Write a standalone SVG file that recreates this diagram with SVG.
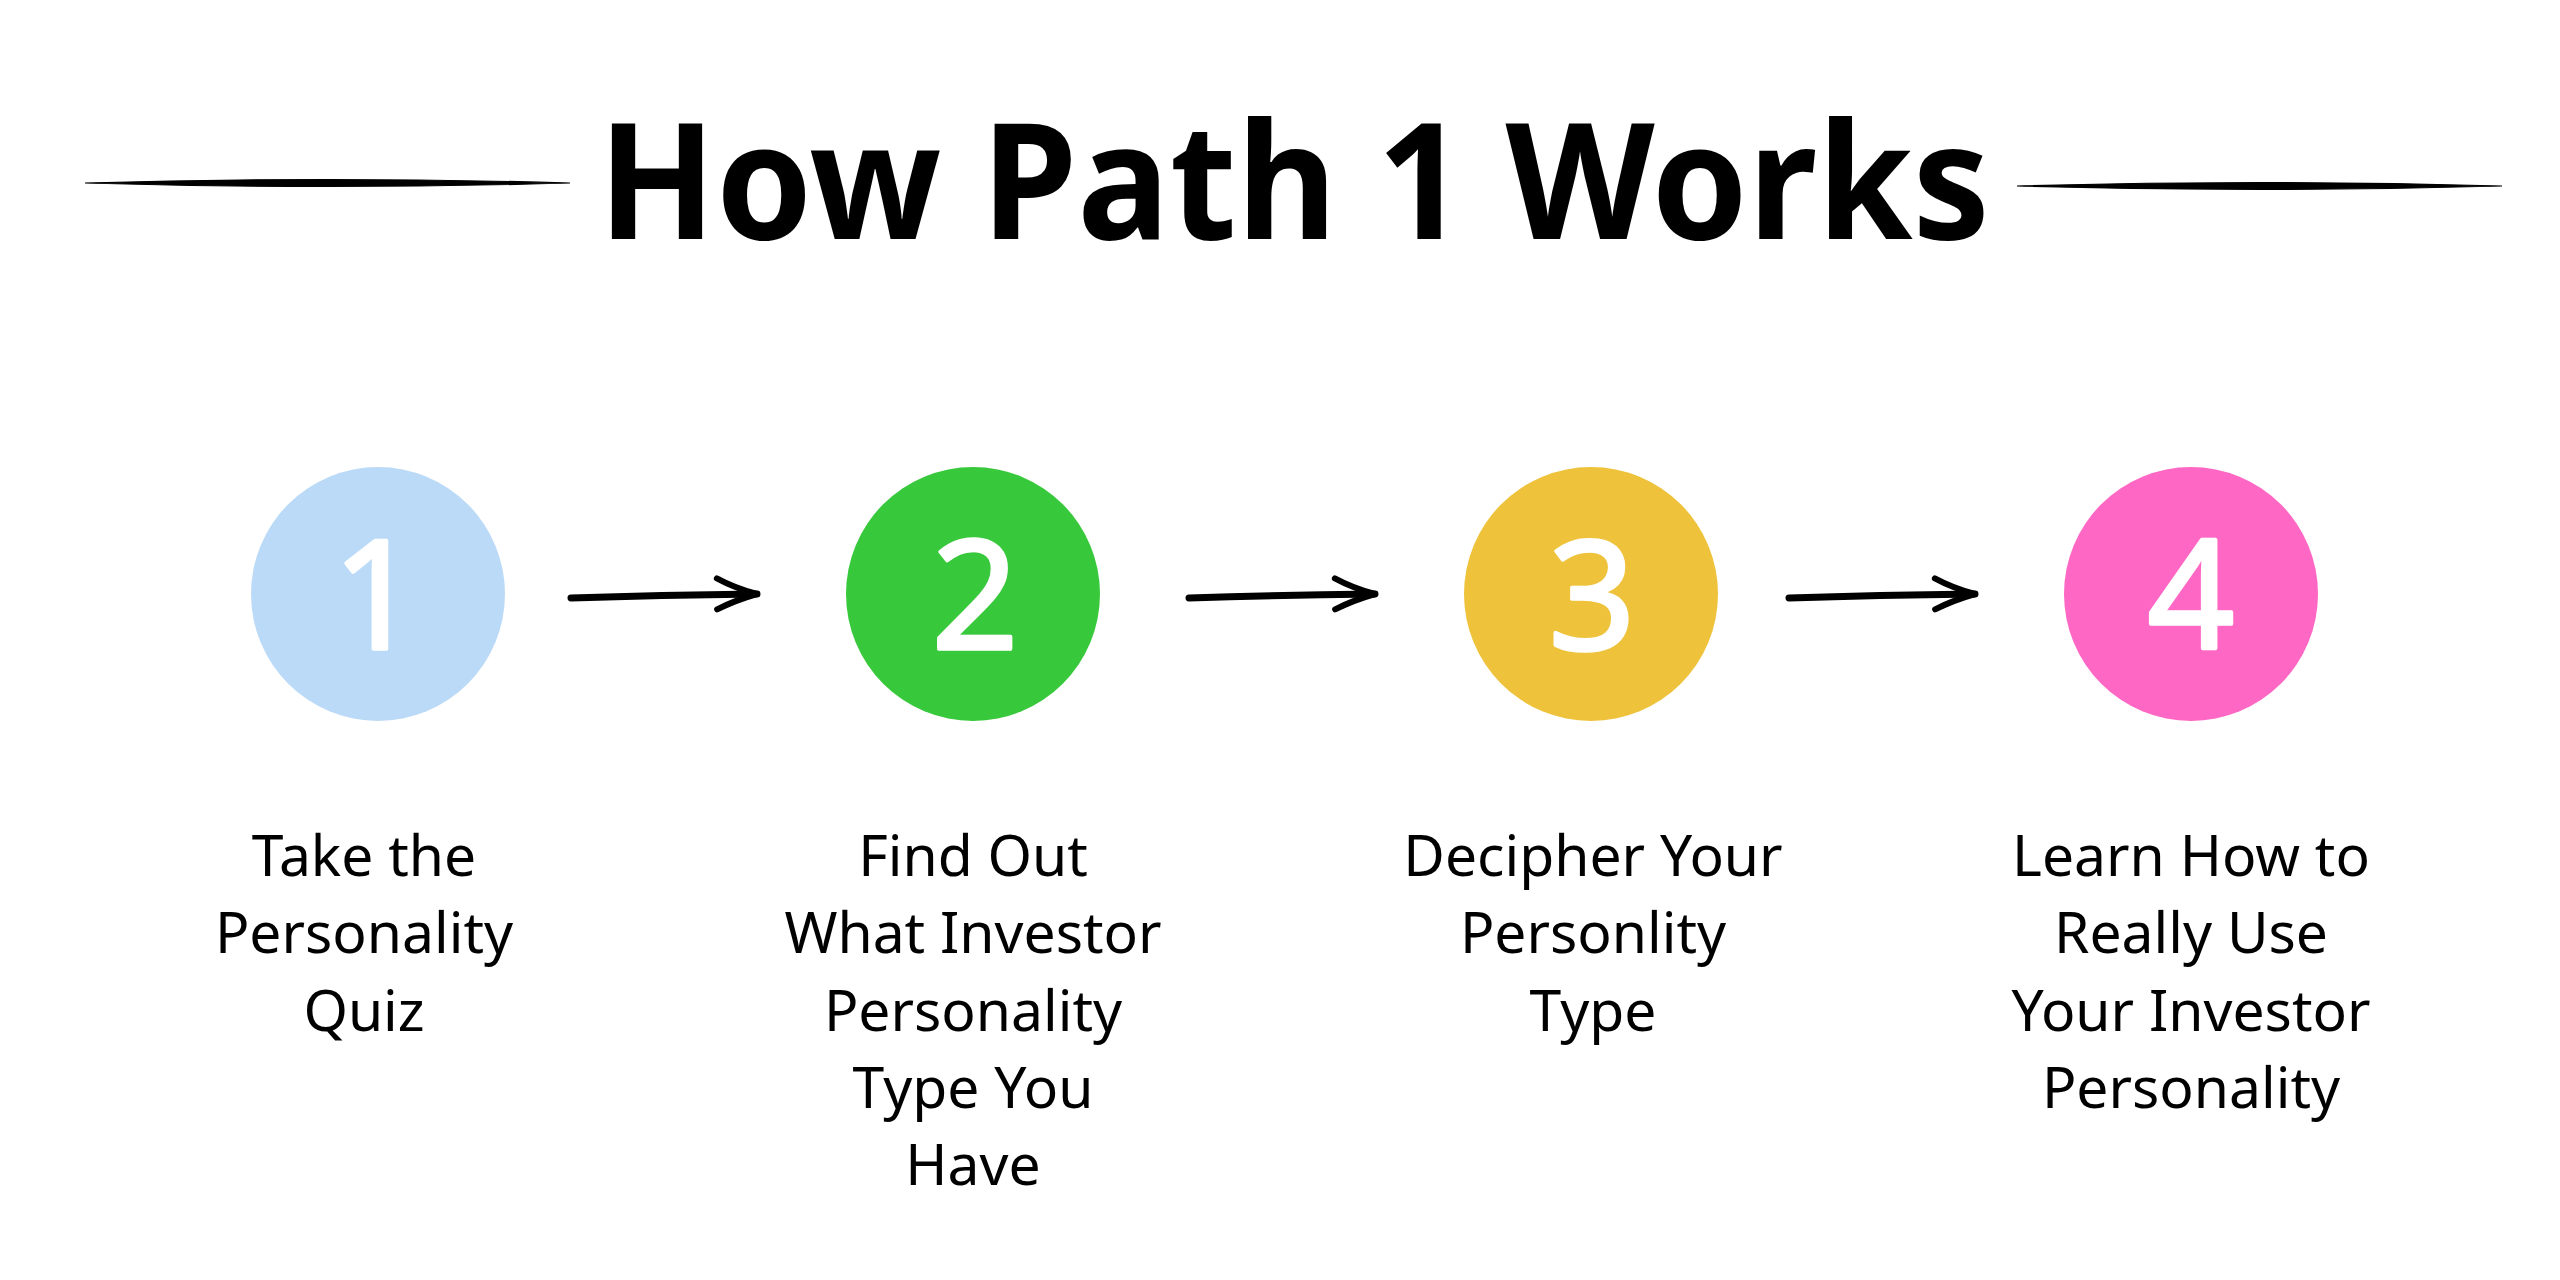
<svg xmlns="http://www.w3.org/2000/svg" width="2560" height="1280" viewBox="0 0 2560 1280">
<defs>
<style>
.title{font-family:"Noto Sans","Liberation Sans",sans-serif;font-weight:700;font-size:162px;fill:#000}
.lbl{font-family:"Noto Sans","Liberation Sans",sans-serif;font-size:57px;fill:#000;text-anchor:middle}
.num{font-family:"Noto Sans","Liberation Sans",sans-serif;font-size:152px;fill:#fff;stroke:#fff;stroke-width:3.5;stroke-linejoin:round;text-anchor:middle}
.conn{fill:none;stroke:#000;stroke-width:7;stroke-linecap:round}
.rule{fill:#000;stroke:#000;stroke-width:1.2}
</style>
<marker id="ah" markerUnits="userSpaceOnUse" markerWidth="60" markerHeight="50" refX="0" refY="0" viewBox="-45 -25 60 50" orient="auto" overflow="visible">
<path d="M-40,-16 Q-22,-6 0,0 Q-22,6 -40,15" fill="none" stroke="#000" stroke-width="6" stroke-linecap="round" stroke-linejoin="round"/>
</marker>
</defs>
<rect width="2560" height="1280" fill="#fff"/>
<g id="title">
<path class="rule" d="M85,183 Q327,176 570,183 Q327,190 85,183 Z"/>
<text class="title" x="598" y="239" textLength="1392" lengthAdjust="spacingAndGlyphs">How Path 1 Works</text>
<path class="rule" d="M2017,186 Q2260,179 2502,186 Q2260,193 2017,186 Z"/>
</g>
<g id="connectors">
<path class="conn" marker-end="url(#ah)" d="M571,598 Q660,595 757,594"/>
<path class="conn" marker-end="url(#ah)" d="M1189,598 Q1278,595 1375,594"/>
<path class="conn" marker-end="url(#ah)" d="M1789,598 Q1878,595 1975,594"/>
</g>
<g id="step1">
<circle cx="378" cy="594" r="127" fill="#BBDAF7"/>
<text class="num" x="376" y="649">1</text>
<text class="lbl"><tspan x="364" y="876">Take the</tspan><tspan x="364" y="953">Personality</tspan><tspan x="364" y="1031">Quiz</tspan></text>
</g>
<g id="step2">
<circle cx="973" cy="594" r="127" fill="#38C83B"/>
<text class="num" x="975" y="649">2</text>
<text class="lbl"><tspan x="973" y="876">Find Out</tspan><tspan x="973" y="953">What Investor</tspan><tspan x="973" y="1031">Personality</tspan><tspan x="973" y="1108">Type You</tspan><tspan x="973" y="1185">Have</tspan></text>
</g>
<g id="step3">
<circle cx="1591" cy="594" r="127" fill="#EEC23A"/>
<text class="num" x="1592" y="649">3</text>
<text class="lbl"><tspan x="1593" y="876">Decipher Your</tspan><tspan x="1593" y="953">Personlity</tspan><tspan x="1593" y="1031">Type</tspan></text>
</g>
<g id="step4">
<circle cx="2191" cy="594" r="127" fill="#FF67C4"/>
<text class="num" x="2191" y="649">4</text>
<text class="lbl"><tspan x="2191" y="876">Learn How to</tspan><tspan x="2191" y="953">Really Use</tspan><tspan x="2191" y="1031">Your Investor</tspan><tspan x="2191" y="1108">Personality</tspan></text>
</g>
</svg>
